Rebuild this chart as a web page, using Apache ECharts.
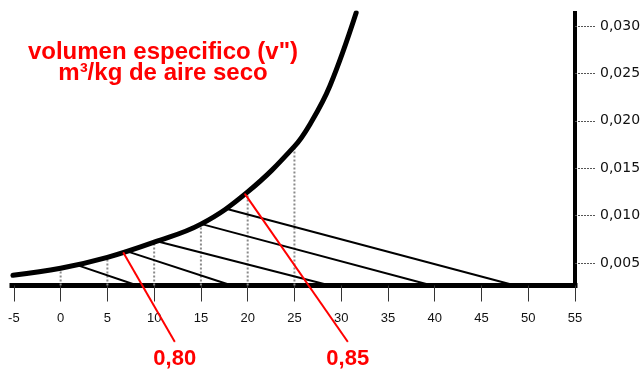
<!DOCTYPE html>
<html>
<head>
<meta charset="utf-8">
<script src="https://cdn.jsdelivr.net/npm/echarts@6/dist/echarts.min.js"></script>
<style>
  html, body { margin: 0; padding: 0; background: #fff; }
  #chart { width: 644px; height: 374px; }
</style>
</head>
<body>
<div id="chart"></div>
<script>
// Saturation curve: dry-bulb temperature (°C) and humidity ratio (kg/kg)
const satTemp = [-5.1, 0, 5, 10, 15, 20, 25, 26.7, 28.8, 31.6];
const satHum  = [0.0037, 0.00445, 0.0056, 0.0072, 0.0091, 0.0125, 0.0173, 0.0197, 0.0237, 0.0314];

// Vertical dry-bulb guides, each rising from the base line up to the curve
const guideTemp = [0, 5, 10, 15, 20, 25];
const guideHum  = [0.00445, 0.0056, 0.0072, 0.0091, 0.0125, 0.0173];

// Sloping lines: start on the curve, run down to the base line
const slopeStartTemp = [1.7, 7.2, 10.3, 15.1, 17.8];
const slopeStartHum  = [0.0048, 0.0062, 0.0073, 0.0091, 0.0107];
const slopeEndTemp   = [8.2, 18.3, 28.8, 39.7, 48.6];

// Specific volume lines (m³/kg dry air)
const volLabel     = ['0,80', '0,85'];
const volStartTemp = [6.7, 19.7];
const volStartHum  = [0.0061, 0.0123];
const volEndTemp   = [12.2, 30.7];
const volEndHum    = [-0.0033, -0.0033];

// Axis ticks
const xTicks = [-5, 0, 5, 10, 15, 20, 25, 30, 35, 40, 45, 50, 55];
const yTicks = [0.005, 0.010, 0.015, 0.020, 0.025, 0.030];

const xMin = -5.2, xMax = 55;
const yMin = 0.00263, yMax = 0.03137;

const series = [];

// dry-bulb guides
guideTemp.forEach((t, i) => {
  series.push({
    type: 'line', silent: true, symbol: 'none', z: 2,
    data: [[t, yMin], [t, guideHum[i]]],
    lineStyle: { color: '#8a8a8a', width: 2, type: [2, 2] }
  });
});

// sloping lines
slopeStartTemp.forEach((t, i) => {
  series.push({
    type: 'line', silent: true, symbol: 'none', z: 3,
    data: [[t, slopeStartHum[i]], [slopeEndTemp[i], yMin]],
    lineStyle: { color: '#000', width: 2 }
  });
});

// saturation curve
series.push({
  type: 'line', silent: true, symbol: 'none', z: 5, smooth: 0.4,
  data: satTemp.map((t, i) => [t, satHum[i]]),
  lineStyle: { color: '#000', width: 5, cap: 'round' }
});

// specific volume lines with their values
volLabel.forEach((name, i) => {
  series.push({
    type: 'line', silent: true, z: 6, clip: false,
    symbol: 'circle', symbolSize: 1, showSymbol: true,
    itemStyle: { color: '#ff0000' },
    data: [
      [volStartTemp[i], volStartHum[i]],
      {
        value: [volEndTemp[i], volEndHum[i]],
        label: {
          show: true, position: 'bottom', distance: 6,
          formatter: name,
          color: '#ff0000',
          fontFamily: '"Liberation Sans", Arial, sans-serif',
          fontWeight: 'bold', fontSize: 22
        }
      }
    ],
    lineStyle: { color: '#ff0000', width: 2 }
  });
});

const titleFont = 'bold 24px "Liberation Sans", Arial, sans-serif';

const chart = echarts.init(document.getElementById('chart'), null, { renderer: 'canvas' });
chart.setOption({
  animation: false,
  backgroundColor: '#fff',
  grid: { left: 12, right: 69, top: 13, bottom: 88.5, containLabel: false },
  xAxis: {
    type: 'value', min: xMin, max: xMax,
    axisLine: { onZero: false, lineStyle: { color: '#000', width: 5, cap: 'square' } },
    axisTick: { show: true, length: 16, customValues: xTicks, lineStyle: { color: '#333', width: 1 } },
    axisLabel: {
      customValues: xTicks, margin: 26,
      color: '#111', fontSize: 13,
      fontFamily: '"Liberation Sans", Arial, sans-serif'
    },
    splitLine: { show: false }
  },
  yAxis: {
    type: 'value', position: 'right', min: yMin, max: yMax,
    axisLine: { show: true, onZero: false, lineStyle: { color: '#000', width: 4, cap: 'square' } },
    axisTick: { show: true, length: 20, customValues: yTicks, lineStyle: { color: '#555', width: 1, type: [2, 1] } },
    axisLabel: {
      customValues: yTicks, margin: 25,
      color: '#111', fontSize: 14,
      fontFamily: '"DejaVu Sans", sans-serif',
      formatter: v => v.toFixed(3).replace('.', ',')
    },
    splitLine: { show: false }
  },
  graphic: [
    {
      type: 'text', x: 163, y: 52, z: 10,
      style: { text: 'volumen especifico (v")', align: 'center', verticalAlign: 'middle', fill: '#ff0000', font: titleFont }
    },
    {
      type: 'text', x: 163, y: 73, z: 10,
      style: { text: 'm³/kg de aire seco', align: 'center', verticalAlign: 'middle', fill: '#ff0000', font: titleFont }
    }
  ],
  series
});
</script>
</body>
</html>
